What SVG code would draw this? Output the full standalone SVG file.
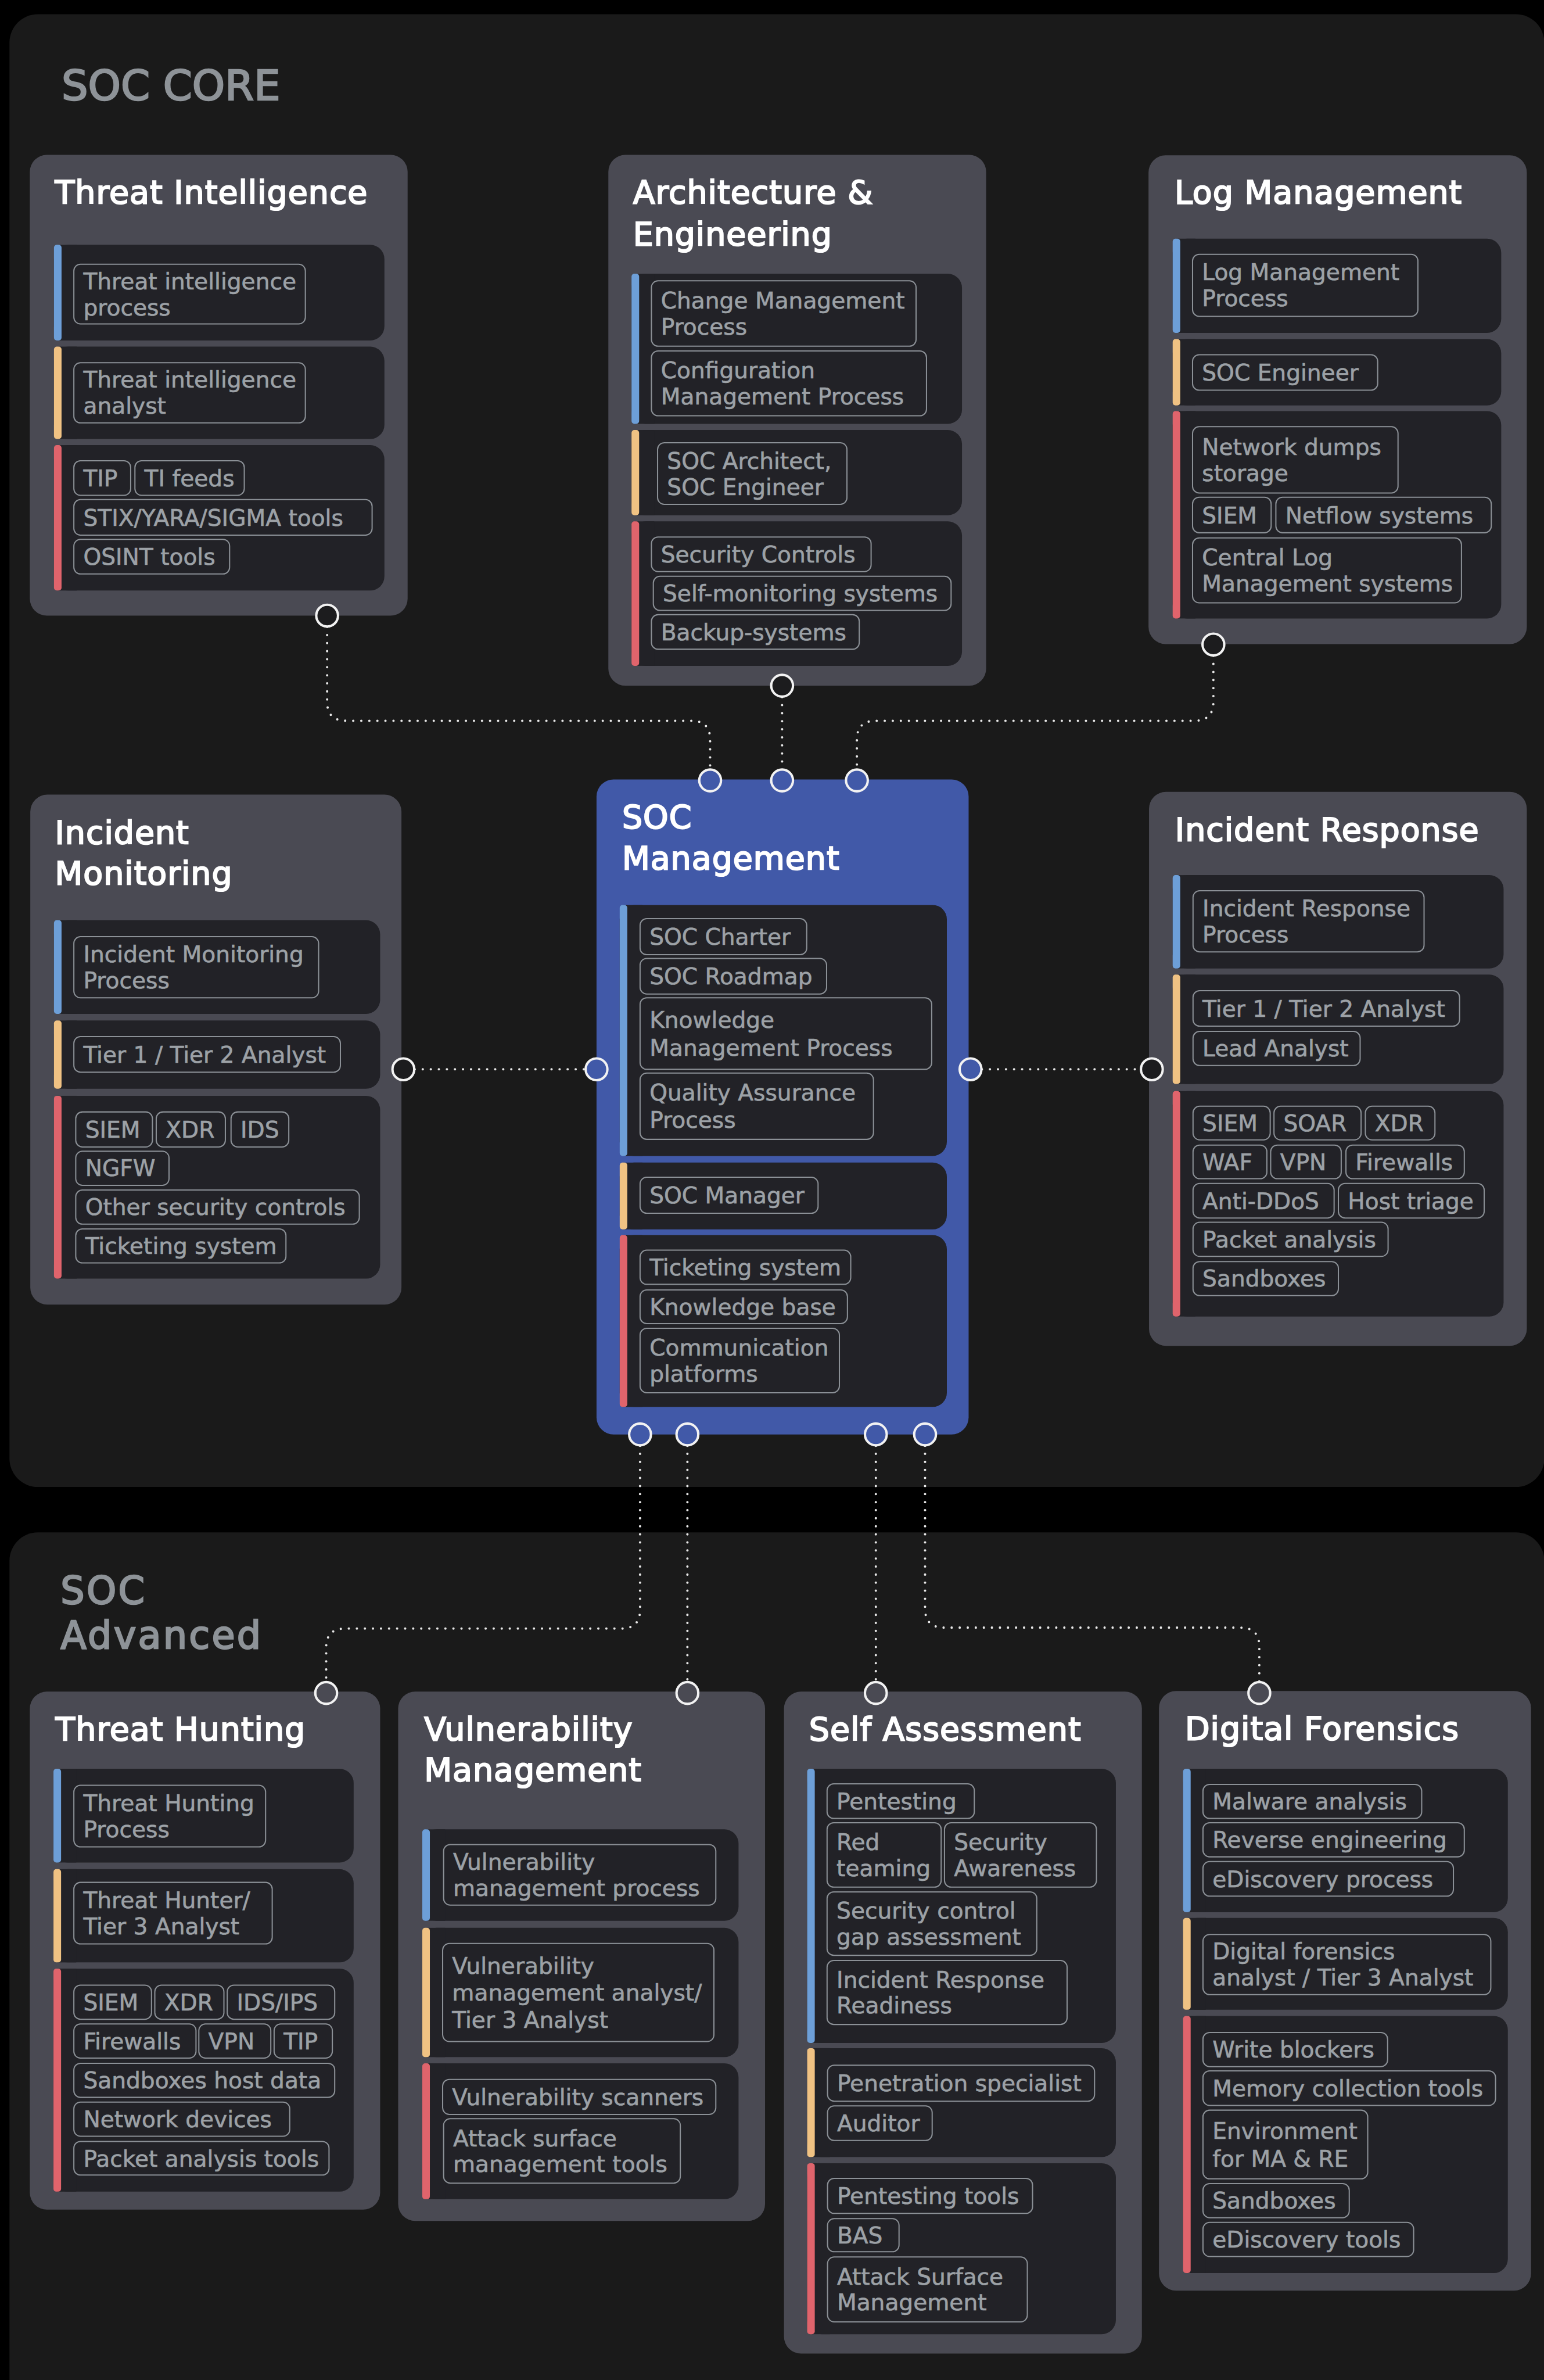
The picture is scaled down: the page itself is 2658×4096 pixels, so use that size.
<svg xmlns="http://www.w3.org/2000/svg" width="2658" height="4096" viewBox="0 0 2658 4096">
<style>
.card{fill:#4a4a53}
.socc{fill:#4159a8}
.panel{fill:#1a1a1a}
.sec{fill:#222227}
.b{fill:#6d9fd8}.o{fill:#f0c283}.r{fill:#e0646c}
.chip{fill:none;stroke:#8b9096;stroke-width:2.5}
.ct{font-family:"DejaVu Sans",sans-serif;font-size:48px;fill:#9ca1a6;stroke:#9ca1a6;stroke-width:0.8px}
.tt{font-family:"DejaVu Sans",sans-serif;font-size:68px;fill:#ffffff;stroke:#ffffff;stroke-width:2.6px;letter-spacing:1.2px}
.hd{font-family:"DejaVu Sans",sans-serif;font-size:88px;fill:#8e9398;stroke:#8e9398;stroke-width:3px}
.hd2{font-family:"DejaVu Sans",sans-serif;font-size:80px;fill:#8e9398;stroke:#8e9398;stroke-width:3px;letter-spacing:4px}
.con{fill:none;stroke:#e8e8e8;stroke-width:5;stroke-linecap:round;stroke-dasharray:0 17}
.pt{fill:#1c1c1e;stroke:#f2f2f2;stroke-width:5}
.ptg{fill:#4a4a53;stroke:#f2f2f2;stroke-width:5}
.ptb{fill:#4159a8;stroke:#f2f2f2;stroke-width:5}
</style>
<rect x="0" y="0" width="2658" height="4096" fill="#000000"/>
<g transform="scale(0.815)">
<g id="soc-core-panel">
<rect class="panel" x="20" y="30" width="3242" height="3110" rx="60"/>
<text class="hd" x="130" y="211">SOC CORE</text>
</g>
<g id="soc-advanced-panel">
<rect class="panel" x="20" y="3236" width="3242" height="1900" rx="60"/>
<text class="hd2" x="128" y="3386">SOC<tspan x="128" dy="95">Advanced</tspan></text>
</g>

<g id="threat-intelligence">
<rect class="card" x="63" y="327" width="798" height="973" rx="36"/>
<text class="tt" x="116" y="429">Threat Intelligence</text>
<rect class="sec" x="114" y="517" width="698" height="202" rx="30"/><rect class="sec" x="122" y="517" width="40" height="202"/><rect class="b" x="114" y="517" width="16" height="202" rx="6"/>
<rect class="sec" x="114" y="732" width="698" height="195" rx="30"/><rect class="sec" x="122" y="732" width="40" height="195"/><rect class="o" x="114" y="732" width="16" height="195" rx="6"/>
<rect class="sec" x="114" y="940" width="698" height="307" rx="30"/><rect class="sec" x="122" y="940" width="40" height="307"/><rect class="r" x="114" y="940" width="16" height="307" rx="6"/>
<rect class="chip" x="156" y="558" width="489" height="126" rx="14"/><text class="ct" x="176" y="611">Threat intelligence<tspan x="176" dy="55">process</tspan></text>
<rect class="chip" x="156" y="766" width="489" height="127" rx="14"/><text class="ct" x="176" y="819">Threat intelligence<tspan x="176" dy="55">analyst</tspan></text>
<rect class="chip" x="156" y="973" width="120" height="73" rx="14"/><text class="ct" x="176" y="1027">TIP</text>
<rect class="chip" x="285" y="973" width="231" height="73" rx="14"/><text class="ct" x="305" y="1027">TI feeds</text>
<rect class="chip" x="156" y="1055" width="630" height="75" rx="14"/><text class="ct" x="176" y="1110">STIX/YARA/SIGMA tools</text>
<rect class="chip" x="156" y="1139" width="329" height="73" rx="14"/><text class="ct" x="176" y="1193">OSINT tools</text>
</g>

<g id="architecture-engineering">
<rect class="card" x="1285" y="327" width="798" height="1121" rx="36"/>
<text class="tt" x="1337" y="430">Architecture &amp;<tspan x="1337" dy="88">Engineering</tspan></text>
<rect class="sec" x="1334" y="578" width="698" height="317" rx="30"/><rect class="sec" x="1342" y="578" width="40" height="317"/><rect class="b" x="1334" y="578" width="16" height="317" rx="6"/>
<rect class="sec" x="1334" y="908" width="698" height="180" rx="30"/><rect class="sec" x="1342" y="908" width="40" height="180"/><rect class="o" x="1334" y="908" width="16" height="180" rx="6"/>
<rect class="sec" x="1334" y="1101" width="698" height="305" rx="30"/><rect class="sec" x="1342" y="1101" width="40" height="305"/><rect class="r" x="1334" y="1101" width="16" height="305" rx="6"/>
<rect class="chip" x="1376" y="593" width="559" height="138" rx="14"/><text class="ct" x="1396" y="652">Change Management<tspan x="1396" dy="55">Process</tspan></text>
<rect class="chip" x="1376" y="741" width="581" height="137" rx="14"/><text class="ct" x="1396" y="799">Configuration<tspan x="1396" dy="55">Management Process</tspan></text>
<rect class="chip" x="1389" y="935" width="400" height="130" rx="14"/><text class="ct" x="1409" y="990">SOC Architect,<tspan x="1409" dy="55">SOC Engineer</tspan></text>
<rect class="chip" x="1376" y="1134" width="464" height="73" rx="14"/><text class="ct" x="1396" y="1188">Security Controls</text>
<rect class="chip" x="1380" y="1217" width="629" height="72" rx="14"/><text class="ct" x="1400" y="1270">Self-monitoring systems</text>
<rect class="chip" x="1376" y="1298" width="439" height="73" rx="14"/><text class="ct" x="1396" y="1352">Backup-systems</text>
</g>

<g id="log-management">
<rect class="card" x="2426" y="328" width="799" height="1032" rx="36"/>
<text class="tt" x="2481" y="430">Log Management</text>
<rect class="sec" x="2477" y="504" width="694" height="199" rx="30"/><rect class="sec" x="2485" y="504" width="40" height="199"/><rect class="b" x="2477" y="504" width="16" height="199" rx="6"/>
<rect class="sec" x="2477" y="716" width="694" height="140" rx="30"/><rect class="sec" x="2485" y="716" width="40" height="140"/><rect class="o" x="2477" y="716" width="16" height="140" rx="6"/>
<rect class="sec" x="2477" y="868" width="694" height="438" rx="30"/><rect class="sec" x="2485" y="868" width="40" height="438"/><rect class="r" x="2477" y="868" width="16" height="438" rx="6"/>
<rect class="chip" x="2519" y="537" width="476" height="131" rx="14"/><text class="ct" x="2539" y="592">Log Management<tspan x="2539" dy="55">Process</tspan></text>
<rect class="chip" x="2519" y="749" width="391" height="75" rx="14"/><text class="ct" x="2539" y="804">SOC Engineer</text>
<rect class="chip" x="2519" y="901" width="434" height="140" rx="14"/><text class="ct" x="2539" y="961">Network dumps<tspan x="2539" dy="55">storage</tspan></text>
<rect class="chip" x="2519" y="1050" width="166" height="75" rx="14"/><text class="ct" x="2539" y="1105">SIEM</text>
<rect class="chip" x="2695" y="1050" width="455" height="75" rx="14"/><text class="ct" x="2715" y="1105">Netflow systems</text>
<rect class="chip" x="2519" y="1136" width="568" height="137" rx="14"/><text class="ct" x="2539" y="1194">Central Log<tspan x="2539" dy="55">Management systems</tspan></text>
</g>

<g id="incident-monitoring">
<rect class="card" x="64" y="1678" width="784" height="1077" rx="36"/>
<text class="tt" x="116" y="1782">Incident<tspan x="116" dy="86">Monitoring</tspan></text>
<rect class="sec" x="114" y="1943" width="689" height="198" rx="30"/><rect class="sec" x="122" y="1943" width="40" height="198"/><rect class="b" x="114" y="1943" width="16" height="198" rx="6"/>
<rect class="sec" x="114" y="2155" width="689" height="144" rx="30"/><rect class="sec" x="122" y="2155" width="40" height="144"/><rect class="o" x="114" y="2155" width="16" height="144" rx="6"/>
<rect class="sec" x="114" y="2314" width="689" height="386" rx="30"/><rect class="sec" x="122" y="2314" width="40" height="386"/><rect class="r" x="114" y="2314" width="16" height="386" rx="6"/>
<rect class="chip" x="156" y="1978" width="517" height="129" rx="14"/><text class="ct" x="176" y="2032">Incident Monitoring<tspan x="176" dy="55">Process</tspan></text>
<rect class="chip" x="156" y="2189" width="563" height="75" rx="14"/><text class="ct" x="176" y="2244">Tier 1 / Tier 2 Analyst</text>
<rect class="chip" x="160" y="2348" width="162" height="74" rx="14"/><text class="ct" x="180" y="2402">SIEM</text>
<rect class="chip" x="330" y="2348" width="146" height="74" rx="14"/><text class="ct" x="350" y="2402">XDR</text>
<rect class="chip" x="488" y="2348" width="122" height="74" rx="14"/><text class="ct" x="508" y="2402">IDS</text>
<rect class="chip" x="160" y="2431" width="197" height="72" rx="14"/><text class="ct" x="180" y="2484">NGFW</text>
<rect class="chip" x="160" y="2513" width="599" height="72" rx="14"/><text class="ct" x="180" y="2566">Other security controls</text>
<rect class="chip" x="160" y="2595" width="444" height="72" rx="14"/><text class="ct" x="180" y="2648">Ticketing system</text>
</g>

<g id="soc-management">
<rect class="socc" x="1260" y="1646" width="786" height="1383" rx="36"/>
<text class="tt" x="1314" y="1748">SOC<tspan x="1314" dy="88">Management</tspan></text>
<rect class="sec" x="1309" y="1911" width="691" height="530" rx="30"/><rect class="sec" x="1317" y="1911" width="40" height="530"/><rect class="b" x="1309" y="1911" width="16" height="530" rx="6"/>
<rect class="sec" x="1309" y="2455" width="691" height="141" rx="30"/><rect class="sec" x="1317" y="2455" width="40" height="141"/><rect class="o" x="1309" y="2455" width="16" height="141" rx="6"/>
<rect class="sec" x="1309" y="2608" width="691" height="363" rx="30"/><rect class="sec" x="1317" y="2608" width="40" height="363"/><rect class="r" x="1309" y="2608" width="16" height="363" rx="6"/>
<rect class="chip" x="1352" y="1940" width="352" height="76" rx="14"/><text class="ct" x="1372" y="1995">SOC Charter</text>
<rect class="chip" x="1352" y="2024" width="394" height="75" rx="14"/><text class="ct" x="1372" y="2079">SOC Roadmap</text>
<rect class="chip" x="1352" y="2107" width="616" height="151" rx="14"/><text class="ct" x="1372" y="2170">Knowledge<tspan x="1372" dy="60">Management Process</tspan></text>
<rect class="chip" x="1352" y="2266" width="493" height="140" rx="14"/><text class="ct" x="1372" y="2324">Quality Assurance<tspan x="1372" dy="58">Process</tspan></text>
<rect class="chip" x="1352" y="2486" width="376" height="76" rx="14"/><text class="ct" x="1372" y="2541">SOC Manager</text>
<rect class="chip" x="1352" y="2640" width="445" height="72" rx="14"/><text class="ct" x="1372" y="2693">Ticketing system</text>
<rect class="chip" x="1352" y="2724" width="438" height="71" rx="14"/><text class="ct" x="1372" y="2777">Knowledge base</text>
<rect class="chip" x="1352" y="2805" width="421" height="136" rx="14"/><text class="ct" x="1372" y="2862">Communication<tspan x="1372" dy="56">platforms</tspan></text>
</g>

<g id="incident-response">
<rect class="card" x="2427" y="1672" width="798" height="1170" rx="36"/>
<text class="tt" x="2482" y="1775">Incident Response</text>
<rect class="sec" x="2477" y="1848" width="699" height="197" rx="30"/><rect class="sec" x="2485" y="1848" width="40" height="197"/><rect class="b" x="2477" y="1848" width="16" height="197" rx="6"/>
<rect class="sec" x="2477" y="2058" width="699" height="231" rx="30"/><rect class="sec" x="2485" y="2058" width="40" height="231"/><rect class="o" x="2477" y="2058" width="16" height="231" rx="6"/>
<rect class="sec" x="2477" y="2304" width="699" height="476" rx="30"/><rect class="sec" x="2485" y="2304" width="40" height="476"/><rect class="r" x="2477" y="2304" width="16" height="476" rx="6"/>
<rect class="chip" x="2520" y="1881" width="488" height="129" rx="14"/><text class="ct" x="2540" y="1935">Incident Response<tspan x="2540" dy="55">Process</tspan></text>
<rect class="chip" x="2520" y="2092" width="563" height="75" rx="14"/><text class="ct" x="2540" y="2147">Tier 1 / Tier 2 Analyst</text>
<rect class="chip" x="2520" y="2178" width="353" height="72" rx="14"/><text class="ct" x="2540" y="2231">Lead Analyst</text>
<rect class="chip" x="2520" y="2336" width="163" height="71" rx="14"/><text class="ct" x="2540" y="2389">SIEM</text>
<rect class="chip" x="2691" y="2336" width="184" height="71" rx="14"/><text class="ct" x="2711" y="2389">SOAR</text>
<rect class="chip" x="2884" y="2336" width="147" height="71" rx="14"/><text class="ct" x="2904" y="2389">XDR</text>
<rect class="chip" x="2520" y="2418" width="156" height="71" rx="14"/><text class="ct" x="2540" y="2471">WAF</text>
<rect class="chip" x="2684" y="2418" width="149" height="71" rx="14"/><text class="ct" x="2704" y="2471">VPN</text>
<rect class="chip" x="2843" y="2418" width="250" height="71" rx="14"/><text class="ct" x="2863" y="2471">Firewalls</text>
<rect class="chip" x="2520" y="2499" width="298" height="73" rx="14"/><text class="ct" x="2540" y="2553">Anti-DDoS</text>
<rect class="chip" x="2827" y="2499" width="308" height="73" rx="14"/><text class="ct" x="2847" y="2553">Host triage</text>
<rect class="chip" x="2520" y="2581" width="412" height="72" rx="14"/><text class="ct" x="2540" y="2634">Packet analysis</text>
<rect class="chip" x="2520" y="2664" width="307" height="72" rx="14"/><text class="ct" x="2540" y="2717">Sandboxes</text>
</g>

<g id="threat-hunting">
<rect class="card" x="63" y="3572" width="740" height="1094" rx="36"/>
<text class="tt" x="117" y="3675">Threat Hunting</text>
<rect class="sec" x="113" y="3735" width="634" height="198" rx="30"/><rect class="sec" x="121" y="3735" width="40" height="198"/><rect class="b" x="113" y="3735" width="16" height="198" rx="6"/>
<rect class="sec" x="113" y="3947" width="634" height="197" rx="30"/><rect class="sec" x="121" y="3947" width="40" height="197"/><rect class="o" x="113" y="3947" width="16" height="197" rx="6"/>
<rect class="sec" x="113" y="4157" width="634" height="471" rx="30"/><rect class="sec" x="121" y="4157" width="40" height="471"/><rect class="r" x="113" y="4157" width="16" height="471" rx="6"/>
<rect class="chip" x="156" y="3770" width="405" height="130" rx="14"/><text class="ct" x="176" y="3825">Threat Hunting<tspan x="176" dy="55">Process</tspan></text>
<rect class="chip" x="156" y="3975" width="419" height="130" rx="14"/><text class="ct" x="176" y="4030">Threat Hunter/<tspan x="176" dy="55">Tier 3 Analyst</tspan></text>
<rect class="chip" x="156" y="4192" width="164" height="72" rx="14"/><text class="ct" x="176" y="4245">SIEM</text>
<rect class="chip" x="327" y="4192" width="146" height="72" rx="14"/><text class="ct" x="347" y="4245">XDR</text>
<rect class="chip" x="480" y="4192" width="227" height="72" rx="14"/><text class="ct" x="500" y="4245">IDS/IPS</text>
<rect class="chip" x="156" y="4274" width="258" height="72" rx="14"/><text class="ct" x="176" y="4327">Firewalls</text>
<rect class="chip" x="420" y="4274" width="152" height="72" rx="14"/><text class="ct" x="440" y="4327">VPN</text>
<rect class="chip" x="579" y="4274" width="123" height="72" rx="14"/><text class="ct" x="599" y="4327">TIP</text>
<rect class="chip" x="156" y="4357" width="551" height="72" rx="14"/><text class="ct" x="176" y="4410">Sandboxes host data</text>
<rect class="chip" x="156" y="4439" width="456" height="72" rx="14"/><text class="ct" x="176" y="4492">Network devices</text>
<rect class="chip" x="156" y="4522" width="539" height="71" rx="14"/><text class="ct" x="176" y="4575">Packet analysis tools</text>
</g>

<g id="vulnerability-management">
<rect class="card" x="841" y="3572" width="775" height="1118" rx="36"/>
<text class="tt" x="896" y="3675">Vulnerability<tspan x="896" dy="86">Management</tspan></text>
<rect class="sec" x="892" y="3863" width="668" height="193" rx="30"/><rect class="sec" x="900" y="3863" width="40" height="193"/><rect class="b" x="892" y="3863" width="16" height="193" rx="6"/>
<rect class="sec" x="892" y="4071" width="668" height="273" rx="30"/><rect class="sec" x="900" y="4071" width="40" height="273"/><rect class="o" x="892" y="4071" width="16" height="273" rx="6"/>
<rect class="sec" x="892" y="4357" width="668" height="287" rx="30"/><rect class="sec" x="900" y="4357" width="40" height="287"/><rect class="r" x="892" y="4357" width="16" height="287" rx="6"/>
<rect class="chip" x="937" y="3895" width="575" height="128" rx="14"/><text class="ct" x="957" y="3949">Vulnerability<tspan x="957" dy="55">management process</tspan></text>
<rect class="chip" x="935" y="4104" width="573" height="207" rx="14"/><text class="ct" x="955" y="4168">Vulnerability<tspan x="955" dy="57">management analyst/</tspan><tspan x="955" dy="57">Tier 3 Analyst</tspan></text>
<rect class="chip" x="935" y="4391" width="577" height="74" rx="14"/><text class="ct" x="955" y="4445">Vulnerability scanners</text>
<rect class="chip" x="937" y="4474" width="500" height="136" rx="14"/><text class="ct" x="957" y="4532">Attack surface<tspan x="957" dy="55">management tools</tspan></text>
</g>

<g id="self-assessment">
<rect class="card" x="1656" y="3572" width="756" height="1398" rx="36"/>
<text class="tt" x="1709" y="3675">Self Assessment</text>
<rect class="sec" x="1705" y="3735" width="652" height="579" rx="30"/><rect class="sec" x="1713" y="3735" width="40" height="579"/><rect class="b" x="1705" y="3735" width="16" height="579" rx="6"/>
<rect class="sec" x="1705" y="4325" width="652" height="230" rx="30"/><rect class="sec" x="1713" y="4325" width="40" height="230"/><rect class="o" x="1705" y="4325" width="16" height="230" rx="6"/>
<rect class="sec" x="1705" y="4568" width="652" height="361" rx="30"/><rect class="sec" x="1713" y="4568" width="40" height="361"/><rect class="r" x="1705" y="4568" width="16" height="361" rx="6"/>
<rect class="chip" x="1747" y="3767" width="311" height="73" rx="14"/><text class="ct" x="1767" y="3821">Pentesting</text>
<rect class="chip" x="1747" y="3849" width="241" height="136" rx="14"/><text class="ct" x="1767" y="3907">Red<tspan x="1767" dy="55">teaming</tspan></text>
<rect class="chip" x="1995" y="3849" width="321" height="136" rx="14"/><text class="ct" x="2015" y="3907">Security<tspan x="2015" dy="55">Awareness</tspan></text>
<rect class="chip" x="1747" y="3995" width="443" height="134" rx="14"/><text class="ct" x="1767" y="4052">Security control<tspan x="1767" dy="55">gap assessment</tspan></text>
<rect class="chip" x="1747" y="4140" width="507" height="135" rx="14"/><text class="ct" x="1767" y="4197">Incident Response<tspan x="1767" dy="55">Readiness</tspan></text>
<rect class="chip" x="1748" y="4361" width="564" height="76" rx="14"/><text class="ct" x="1768" y="4416">Penetration specialist</text>
<rect class="chip" x="1748" y="4447" width="221" height="73" rx="14"/><text class="ct" x="1768" y="4501">Auditor</text>
<rect class="chip" x="1748" y="4600" width="433" height="74" rx="14"/><text class="ct" x="1768" y="4654">Pentesting tools</text>
<rect class="chip" x="1748" y="4685" width="151" height="70" rx="14"/><text class="ct" x="1768" y="4737">BAS</text>
<rect class="chip" x="1748" y="4766" width="422" height="137" rx="14"/><text class="ct" x="1768" y="4824">Attack Surface<tspan x="1768" dy="55">Management</tspan></text>
</g>

<g id="digital-forensics">
<rect class="card" x="2448" y="3571" width="786" height="1266" rx="36"/>
<text class="tt" x="2503" y="3674">Digital Forensics</text>
<rect class="sec" x="2499" y="3735" width="686" height="303" rx="30"/><rect class="sec" x="2507" y="3735" width="40" height="303"/><rect class="b" x="2499" y="3735" width="16" height="303" rx="6"/>
<rect class="sec" x="2499" y="4050" width="686" height="194" rx="30"/><rect class="sec" x="2507" y="4050" width="40" height="194"/><rect class="o" x="2499" y="4050" width="16" height="194" rx="6"/>
<rect class="sec" x="2499" y="4257" width="686" height="543" rx="30"/><rect class="sec" x="2507" y="4257" width="40" height="543"/><rect class="r" x="2499" y="4257" width="16" height="543" rx="6"/>
<rect class="chip" x="2541" y="3768" width="462" height="72" rx="14"/><text class="ct" x="2561" y="3821">Malware analysis</text>
<rect class="chip" x="2541" y="3849" width="552" height="72" rx="14"/><text class="ct" x="2561" y="3902">Reverse engineering</text>
<rect class="chip" x="2541" y="3931" width="529" height="73" rx="14"/><text class="ct" x="2561" y="3985">eDiscovery process</text>
<rect class="chip" x="2541" y="4085" width="608" height="127" rx="14"/><text class="ct" x="2561" y="4138">Digital forensics<tspan x="2561" dy="55">analyst / Tier 3 Analyst</tspan></text>
<rect class="chip" x="2541" y="4292" width="390" height="72" rx="14"/><text class="ct" x="2561" y="4345">Write blockers</text>
<rect class="chip" x="2541" y="4373" width="618" height="73" rx="14"/><text class="ct" x="2561" y="4427">Memory collection tools</text>
<rect class="chip" x="2541" y="4456" width="348" height="145" rx="14"/><text class="ct" x="2561" y="4516">Environment<tspan x="2561" dy="60">for MA &amp; RE</tspan></text>
<rect class="chip" x="2541" y="4611" width="309" height="72" rx="14"/><text class="ct" x="2561" y="4664">Sandboxes</text>
<rect class="chip" x="2541" y="4693" width="445" height="72" rx="14"/><text class="ct" x="2561" y="4746">eDiscovery tools</text>
</g>

<g id="connectors">
<path class="con" d="M691 1324 V1482 Q691 1522 731 1522 H1460 Q1500 1522 1500 1562 V1624"/>
<path class="con" d="M1652 1472 V1624"/>
<path class="con" d="M2563 1385 V1482 Q2563 1522 2523 1522 H1850 Q1810 1522 1810 1562 V1624"/>
<path class="con" d="M876 2258 H1236"/>
<path class="con" d="M2074 2258 H2409"/>
<path class="con" d="M1352 3053 V3399 Q1352 3439 1312 3439 H729 Q689 3439 689 3479 V3551"/>
<path class="con" d="M1452 3053 V3551"/>
<path class="con" d="M1850 3053 V3551"/>
<path class="con" d="M1954 3053 V3397 Q1954 3437 1994 3437 H2620 Q2660 3437 2660 3477 V3551"/>
<circle class="pt" cx="691" cy="1300" r="23"/>
<circle class="pt" cx="1652" cy="1448" r="23"/>
<circle class="pt" cx="2563" cy="1361" r="23"/>
<circle class="pt" cx="852" cy="2258" r="23"/>
<circle class="pt" cx="2433" cy="2258" r="23"/>
<circle class="ptb" cx="1500" cy="1648" r="23"/>
<circle class="ptb" cx="1652" cy="1648" r="23"/>
<circle class="ptb" cx="1810" cy="1648" r="23"/>
<circle class="ptb" cx="1260" cy="2258" r="23"/>
<circle class="ptb" cx="2050" cy="2258" r="23"/>
<circle class="ptb" cx="1352" cy="3029" r="23"/>
<circle class="ptb" cx="1452" cy="3029" r="23"/>
<circle class="ptb" cx="1850" cy="3029" r="23"/>
<circle class="ptb" cx="1954" cy="3029" r="23"/>
<circle class="ptg" cx="689" cy="3575" r="23"/>
<circle class="ptg" cx="1452" cy="3575" r="23"/>
<circle class="ptg" cx="1850" cy="3575" r="23"/>
<circle class="ptg" cx="2660" cy="3575" r="23"/>
</g>
</g>
</svg>
